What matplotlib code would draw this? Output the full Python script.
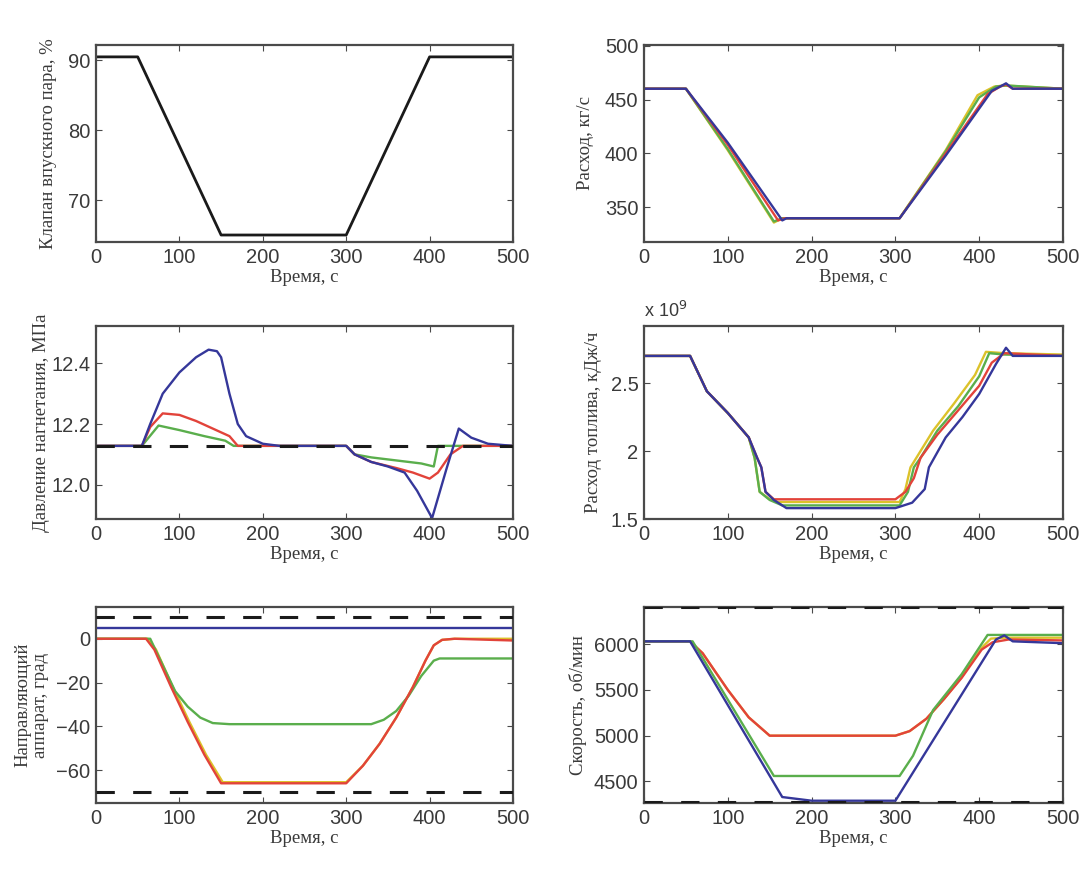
import matplotlib
matplotlib.use("Agg")
import matplotlib.pyplot as plt
from matplotlib.ticker import FixedLocator

# ---------------- data ----------------
time_ticks = [0, 100, 200, 300, 400, 500]

# valve position, %
valve_t = [0, 50, 150, 300, 400, 500]
valve_v = [90.5, 90.5, 65.0, 65.0, 90.5, 90.5]

# flow, kg/s
flow_blue_t = [0, 50, 100, 165, 170, 305, 360, 415, 425, 432, 440, 500]
flow_blue_v = [460, 460, 410, 338, 340, 340, 398, 458, 462, 465, 460, 460]
flow_red_t = [0, 50, 100, 160, 168, 305, 360, 410, 425, 432, 440, 500]
flow_red_v = [460, 460, 408, 338, 340, 340, 400, 455, 462, 464, 460, 460]
flow_green_t = [0, 50, 100, 155, 165, 305, 360, 400, 420, 432, 500]
flow_green_v = [460, 460, 404, 337, 340, 340, 402, 452, 462, 463, 460]
flow_yellow_t = [0, 50, 100, 155, 165, 305, 360, 398, 418, 430, 500]
flow_yellow_v = [460, 460, 403, 336, 340, 340, 403, 454, 462, 463, 460]

# discharge pressure, MPa
p_ref = 12.128
p_blue_t = [0, 55, 65, 80, 100, 120, 135, 145, 150, 160, 170, 180, 200, 220, 300, 310,
            330, 350, 370, 385, 395, 403, 420, 435, 450, 470, 500]
p_blue_v = [12.128, 12.128, 12.2, 12.3, 12.37, 12.42, 12.445, 12.44, 12.42, 12.3, 12.2,
            12.16, 12.135, 12.128, 12.128, 12.1, 12.075, 12.06, 12.04, 11.98, 11.93, 11.89,
            12.05, 12.185, 12.155, 12.135, 12.128]
p_red_t = [0, 55, 65, 80, 100, 120, 140, 160, 170, 300, 310, 330, 360, 380, 400, 410, 425, 440, 500]
p_red_v = [12.128, 12.128, 12.19, 12.235, 12.23, 12.21, 12.185, 12.16, 12.128, 12.128, 12.1,
           12.075, 12.055, 12.04, 12.02, 12.04, 12.1, 12.128, 12.128]
p_green_t = [0, 55, 75, 100, 130, 155, 165, 300, 310, 330, 360, 390, 405, 410, 500]
p_green_v = [12.128, 12.128, 12.195, 12.18, 12.16, 12.145, 12.128, 12.128, 12.1, 12.09,
             12.08, 12.07, 12.06, 12.128, 12.128]

# fuel heat flow, x1e9 kJ/h
f_blue_t = [0, 55, 75, 100, 125, 135, 140, 145, 155, 170, 300, 320, 335, 340, 360, 380, 400, 420, 432, 440, 500]
f_blue_v = [2.70, 2.70, 2.44, 2.28, 2.10, 1.95, 1.88, 1.70, 1.64, 1.58, 1.58, 1.62, 1.72, 1.88, 2.10, 2.25, 2.42, 2.64, 2.76, 2.70, 2.70]
f_red_t = [0, 55, 75, 100, 125, 135, 140, 145, 155, 300, 312, 322, 330, 350, 375, 400, 415, 430, 500]
f_red_v = [2.70, 2.70, 2.44, 2.28, 2.10, 1.95, 1.88, 1.70, 1.645, 1.645, 1.70, 1.80, 1.95, 2.12, 2.30, 2.48, 2.65, 2.72, 2.70]
f_green_t = [0, 55, 75, 100, 125, 132, 138, 150, 165, 305, 315, 322, 330, 350, 375, 400, 412, 430, 500]
f_green_v = [2.70, 2.70, 2.44, 2.28, 2.10, 1.95, 1.70, 1.64, 1.60, 1.60, 1.70, 1.88, 1.95, 2.15, 2.33, 2.55, 2.72, 2.71, 2.70]
f_yellow_t = [0, 55, 75, 100, 125, 132, 138, 150, 160, 305, 312, 318, 326, 345, 370, 395, 408, 430, 500]
f_yellow_v = [2.70, 2.70, 2.44, 2.28, 2.10, 1.95, 1.70, 1.645, 1.625, 1.625, 1.72, 1.88, 1.96, 2.15, 2.35, 2.56, 2.73, 2.72, 2.71]

# guide vanes, deg
gv_limits = [10, -70]
gv_blue_t = [0, 500]
gv_blue_v = [5, 5]
gv_red_t = [0, 60, 70, 90, 110, 130, 150, 300, 320, 340, 360, 380, 395, 405, 415, 430, 500]
gv_red_v = [0, 0, -5, -22, -38, -53, -66, -66, -58, -48, -36, -22, -10, -3, -0.5, 0, -0.8]
gv_yellow_t = [0, 62, 72, 92, 112, 132, 152, 300, 320, 340, 360, 380, 395, 405, 415, 430, 500]
gv_yellow_v = [0, 0, -5, -22, -38, -53, -65.5, -65.5, -58, -48, -36, -22, -10, -3, -0.5, 0, 0]
gv_green_t = [0, 65, 80, 95, 110, 125, 140, 160, 330, 345, 360, 375, 390, 405, 412, 500]
gv_green_v = [0, 0, -12, -24, -31, -36, -38.5, -39, -39, -37, -33, -26, -17, -10, -9, -9]

# speed, rpm
n_limits = [6400, 4275]
n_blue_t = [0, 55, 165, 200, 300, 420, 430, 440, 500]
n_blue_v = [6030, 6030, 4330, 4290, 4290, 6050, 6095, 6030, 6010]
n_green_t = [0, 58, 155, 305, 321, 345, 379, 410, 500]
n_green_v = [6030, 6030, 4560, 4560, 4780, 5280, 5670, 6100, 6100]
n_red_t = [0, 55, 70, 100, 125, 150, 300, 317, 337, 358, 379, 403, 416, 435, 500]
n_red_v = [6030, 6030, 5900, 5500, 5200, 5000, 5000, 5050, 5185, 5400, 5630, 5940, 6020, 6050, 6040]
n_yellow_t = [0, 55, 70, 100, 125, 150, 300, 317, 337, 358, 379, 403, 414, 430, 500]
n_yellow_v = [6030, 6030, 5900, 5500, 5200, 5000, 5000, 5050, 5185, 5400, 5640, 5960, 6060, 6070, 6070]

ylabels = ["Клапан впускного пара, %", "Расход, кг/с",
           "Давление нагнетания, МПа", "Расход топлива, кДж/ч",
           "Направляющий\nаппарат, град", "Скорость, об/мин"]
xlabel = "Время, с"

# ---------------- style ----------------
BLUE = "#35379a"
RED = "#e2433a"
GREEN = "#5aae4c"
YELLOW = "#dcc22a"
BLACK = "#1a1a1a"
FRAME = "#4a4a4a"
TXT = "#3a3a3a"

plt.rcParams["font.family"] = ["Liberation Sans", "DejaVu Sans"]

fig = plt.figure(figsize=(10.89, 8.75), dpi=100)
W, H = 1089, 875

def make_ax(left, top, right, bottom):
    return fig.add_axes([left / W, 1 - bottom / H, (right - left) / W, (bottom - top) / H])

cols = [(96, 513), (644, 1063)]
rows = [(45, 242), (326, 519), (607, 803)]
axes = [[make_ax(c[0], r[0], c[1], r[1]) for c in cols] for r in rows]

SERIF = ["Liberation Serif", "DejaVu Serif"]

def style(ax, ylab, yticks, yticklabels=None, pad=5):
    ax.set_xlim(0, 500)
    ax.xaxis.set_major_locator(FixedLocator(time_ticks))
    ax.set_yticks(yticks)
    if yticklabels is not None:
        ax.set_yticklabels(yticklabels)
    ax.tick_params(direction="in", length=4, width=0.8, color=FRAME, labelsize=14.5,
                   top=True, right=True, pad=4, labelcolor=TXT)
    for s in ax.spines.values():
        s.set_color(FRAME)
        s.set_linewidth(1.6)
    ax.set_xlabel(xlabel, family=SERIF, fontsize=13.5, color=TXT, labelpad=2)
    ax.set_ylabel(ylab, family=SERIF, fontsize=13.5, color=TXT, labelpad=pad, linespacing=1.1)

lw = 1.7

# row 1 left
ax = axes[0][0]
ax.plot(valve_t, valve_v, color=BLACK, lw=2.0)
ax.set_ylim(64, 92.2)
style(ax, ylabels[0], [70, 80, 90], pad=8)

# row 1 right
ax = axes[0][1]
ax.plot(flow_yellow_t, flow_yellow_v, color=YELLOW, lw=lw)
ax.plot(flow_green_t, flow_green_v, color=GREEN, lw=lw)
ax.plot(flow_red_t, flow_red_v, color=RED, lw=lw)
ax.plot(flow_blue_t, flow_blue_v, color=BLUE, lw=lw)
ax.set_ylim(318, 500.5)
style(ax, ylabels[1], [350, 400, 450, 500], pad=8)

# row 2 left
ax = axes[1][0]
ax.plot(p_green_t, p_green_v, color=GREEN, lw=lw)
ax.plot(p_red_t, p_red_v, color=RED, lw=lw)
ax.plot(p_blue_t, p_blue_v, color=BLUE, lw=lw)
ax.axhline(p_ref, color=BLACK, lw=2.2, ls=(0, (6, 6)), zorder=5)
ax.set_ylim(11.887, 12.523)
style(ax, ylabels[2], [12.0, 12.2, 12.4], ["12.0", "12.2", "12.4"], pad=1)

# row 2 right
ax = axes[1][1]
ax.plot(f_yellow_t, f_yellow_v, color=YELLOW, lw=lw)
ax.plot(f_green_t, f_green_v, color=GREEN, lw=lw)
ax.plot(f_red_t, f_red_v, color=RED, lw=lw)
ax.plot(f_blue_t, f_blue_v, color=BLUE, lw=lw)
ax.set_ylim(1.5, 2.92)
style(ax, ylabels[3], [1.5, 2.0, 2.5], ["1.5", "2", "2.5"], pad=6)
ax.text(0.0, 1.025, r"x 10$^9$", transform=ax.transAxes, fontsize=13, color=TXT,
        ha="left", va="bottom")

# row 3 left
ax = axes[2][0]
ax.plot(gv_blue_t, gv_blue_v, color=BLUE, lw=lw)
ax.plot(gv_yellow_t, gv_yellow_v, color=YELLOW, lw=lw)
ax.plot(gv_green_t, gv_green_v, color=GREEN, lw=lw)
ax.plot(gv_red_t, gv_red_v, color=RED, lw=lw)
for yv in gv_limits:
    ax.axhline(yv, color=BLACK, lw=2.2, ls=(0, (6, 6)), zorder=5)
ax.set_ylim(-75, 14.5)
style(ax, ylabels[4], [-60, -40, -20, 0], ["\u221260", "\u221240", "\u221220", "0"])

# row 3 right
ax = axes[2][1]
ax.plot(n_yellow_t, n_yellow_v, color=YELLOW, lw=lw)
ax.plot(n_red_t, n_red_v, color=RED, lw=lw)
ax.plot(n_green_t, n_green_v, color=GREEN, lw=lw)
ax.plot(n_blue_t, n_blue_v, color=BLUE, lw=lw)
for yv in n_limits:
    ax.axhline(yv, color=BLACK, lw=2.2, ls=(0, (6, 6)), zorder=5)
ax.set_ylim(4265, 6405)
style(ax, ylabels[5], [4500, 5000, 5500, 6000])

fig.savefig("out.png", dpi=100, facecolor="white")
